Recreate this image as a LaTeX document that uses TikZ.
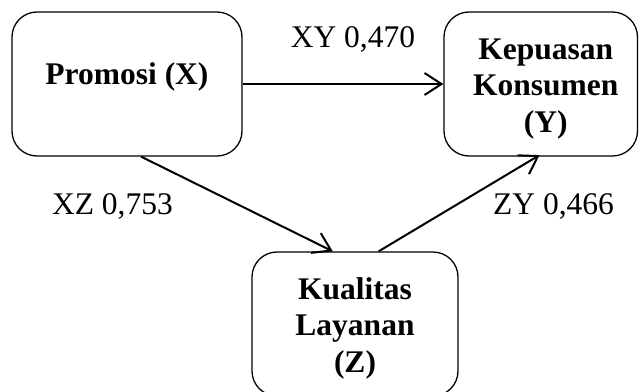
\documentclass[tikz,border=0pt]{standalone}
\usepackage{fontspec}
\setmainfont{Liberation Serif}
\usetikzlibrary{arrows.meta}
\begin{document}
\begin{tikzpicture}[x=1pt,y=-1pt,
  box/.style={draw, line width=1.3pt, rounded corners=25pt, rectangle, inner sep=0pt},
  conn/.style={line width=2pt, -{Straight Barb[length=17pt,width=22pt,line width=2pt]}},
  lbl/.style={font=\fontsize{31.5}{36.5}\selectfont, inner sep=0pt, anchor=base},
  btxt/.style={font=\fontsize{31.5}{36.5}\selectfont\bfseries, inner sep=0pt, align=center}]
\useasboundingbox (0,0) rectangle (639,391);
\clip (0,0) rectangle (639,391);
% boxes
\node[box, minimum width=230pt, minimum height=144pt] (X) at (127,84) {};
\node[box, minimum width=193.5pt, minimum height=144pt] (Y) at (540.75,84) {};
\node[box, minimum width=206pt, minimum height=144pt] (Z) at (355,324) {};
% box texts
\node[btxt] (tX) at ([yshift=7pt]X.center) {Promosi (X)};
\node[btxt] (tY) at ([xshift=5pt,yshift=-5pt]Y.center) {Kepuasan\\Konsumen\\(Y)};
\begin{scope}
\clip (0,0) rectangle (639,378);
\node[btxt] (tZ) at ([yshift=-4pt]Z.center) {Kualitas\\Layanan\\(Z)};
\end{scope}
% connectors
\draw[conn] (X.east) -- (Y.west);
\draw[conn] (X.-79.8) -- (Z.107);
\draw[conn, shorten >=-3pt] (Z.72.2) -- (Y.-93);
% labels
\node[lbl] (lXY) at (353,47) {XY 0,470};
\node[lbl] (lXZ) at (112.5,214) {XZ 0,753};
\node[lbl] (lZY) at (553.5,214) {ZY 0,466};
\end{tikzpicture}
\end{document}
